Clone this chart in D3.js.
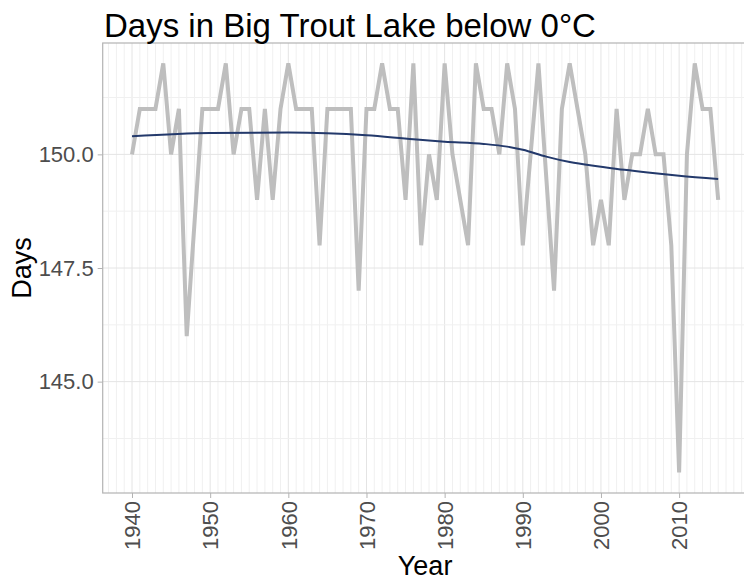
<!DOCTYPE html>
<html>
<head>
<meta charset="utf-8">
<script src="https://cdn.jsdelivr.net/npm/d3@7"></script>
<style>
  body { margin: 0; background: #fff; }
  svg { display: block; font-family: "Liberation Sans", Arial, sans-serif; }
</style>
</head>
<body>
<svg width="744" height="582"></svg>
<script>
// yearly values (1948 and 1993 look like straight runs, left out)
const years = [1940,1941,1942,1943,1944,1945,1946,1947,1949,1950,1951,1952,1953,1954,1955,1956,1957,1958,1959,
  1960,1961,1962,1963,1964,1965,1966,1967,1968,1969,1970,1971,1972,1973,1974,1975,1976,1977,1978,1979,
  1980,1981,1982,1983,1984,1985,1986,1987,1988,1989,1990,1991,1992,1994,1995,1996,1997,1998,1999,
  2000,2001,2002,2003,2004,2005,2006,2007,2008,2009,2010,2011,2012,2013,2014,2015];
const days = [150,151,151,151,152,150,151,146,151,151,151,152,150,151,151,149,151,149,151,
  152,151,151,151,148,151,151,151,151,147,151,151,152,151,151,149,152,148,150,149,
  152,150,149,148,152,151,151,150,152,151,148,150,152,147,151,152,151,150,148,
  149,148,151,149,150,150,151,150,150,148,143,150,152,151,151,149];

// smoothed trend
const smoothYears = [1940,1950,1960,1970,1976,1980,1985,1988,1990,1993,1996,2000,2003,2006,2010,2015];
const smoothDays = [150.40,150.47,150.48,150.42,150.33,150.28,150.23,150.17,150.10,149.95,149.83,149.73,149.66,149.60,149.53,149.46];

const xTicks = [1940,1950,1960,1970,1980,1990,2000,2010];
const yTicks = [145,147.5,150];
const yMinor = [143.75,146.25,148.75,151.25];

const svg = d3.select("svg");

const x = d3.scaleLinear().domain([1936.25, 2018.75]).range([102.7, 747.5]);
const y = d3.scaleLinear().domain([142.55, 152.45]).range([493, 43]);

const grid = svg.append("g").attr("class","grid");

// every year gets a faint vertical line
grid.selectAll(".vminor")
  .data(d3.range(1937, 2019).filter(d => !xTicks.includes(d)))
  .enter().append("line")
    .attr("x1", d => x(d)).attr("x2", d => x(d))
    .attr("y1", y.range()[0]).attr("y2", y.range()[1])
    .attr("stroke","#f0f0f0").attr("stroke-width",1);

grid.selectAll(".vmajor")
  .data(xTicks)
  .enter().append("line")
    .attr("x1", d => x(d)).attr("x2", d => x(d))
    .attr("y1", y.range()[0]).attr("y2", y.range()[1])
    .attr("stroke","#e4e4e4").attr("stroke-width",1);

grid.selectAll(".hminor")
  .data(yMinor)
  .enter().append("line")
    .attr("x1", x.range()[0]).attr("x2", x.range()[1])
    .attr("y1", d => y(d)).attr("y2", d => y(d))
    .attr("stroke","#f0f0f0").attr("stroke-width",1);

grid.selectAll(".hmajor")
  .data(yTicks)
  .enter().append("line")
    .attr("x1", x.range()[0]).attr("x2", x.range()[1])
    .attr("y1", d => y(d)).attr("y2", d => y(d))
    .attr("stroke","#e4e4e4").attr("stroke-width",1);

const series = years.map((yr,i) => ({yr: yr, v: days[i]}));
const smooth = smoothYears.map((yr,i) => ({yr: yr, v: smoothDays[i]}));

svg.append("path")
  .datum(series)
  .attr("fill","none")
  .attr("stroke","#bebebe")
  .attr("stroke-width",4)
  .attr("stroke-linejoin","miter")
  .attr("d", d3.line().x(d => x(d.yr)).y(d => y(d.v)));

svg.append("path")
  .datum(smooth)
  .attr("fill","none")
  .attr("stroke","#23396b")
  .attr("stroke-width",2)
  .attr("d", d3.line().curve(d3.curveMonotoneX).x(d => x(d.yr)).y(d => y(d.v)));

// panel border
svg.append("rect")
  .attr("x", x.range()[0]).attr("y", y.range()[1])
  .attr("width", x.range()[1] - x.range()[0])
  .attr("height", y.range()[0] - y.range()[1])
  .attr("fill","none").attr("stroke","#b3b3b3").attr("stroke-width",1.2);

// axes
const yAxis = svg.append("g")
  .attr("transform", `translate(${x.range()[0]},0)`)
  .call(d3.axisLeft(y).tickValues(yTicks).tickFormat(d3.format(".1f")).tickSize(5).tickPadding(4));
yAxis.select(".domain").remove();
yAxis.selectAll(".tick line").attr("stroke","#b3b3b3");
yAxis.selectAll(".tick text")
  .attr("fill","#4d4d4d").style("font-size","22px")
  .attr("font-family","Liberation Sans, Arial, sans-serif");

const xAxis = svg.append("g")
  .attr("transform", `translate(0,${y.range()[0]})`)
  .call(d3.axisBottom(x).tickValues(xTicks).tickFormat(d3.format("d")).tickSize(5));
xAxis.select(".domain").remove();
xAxis.selectAll(".tick line").attr("stroke","#b3b3b3");
xAxis.selectAll(".tick text")
  .attr("fill","#4d4d4d").style("font-size","22px")
  .attr("font-family","Liberation Sans, Arial, sans-serif")
  .attr("transform","rotate(-90)")
  .attr("x",-8).attr("y",0).attr("dy","0.35em")
  .attr("text-anchor","end");

// titles
svg.append("text")
  .attr("x", 104).attr("y", 37)
  .attr("font-size", 33).attr("fill","#000")
  .text("Days in Big Trout Lake below 0°C");

svg.append("text")
  .attr("x", (x.range()[0] + x.range()[1]) / 2).attr("y", 575)
  .attr("text-anchor","middle")
  .attr("font-size", 27).attr("fill","#000")
  .text("Year");

svg.append("text")
  .attr("transform", `translate(31,${(y.range()[0] + y.range()[1]) / 2}) rotate(-90)`)
  .attr("text-anchor","middle")
  .attr("font-size", 27).attr("fill","#000")
  .text("Days");
</script>
</body>
</html>
